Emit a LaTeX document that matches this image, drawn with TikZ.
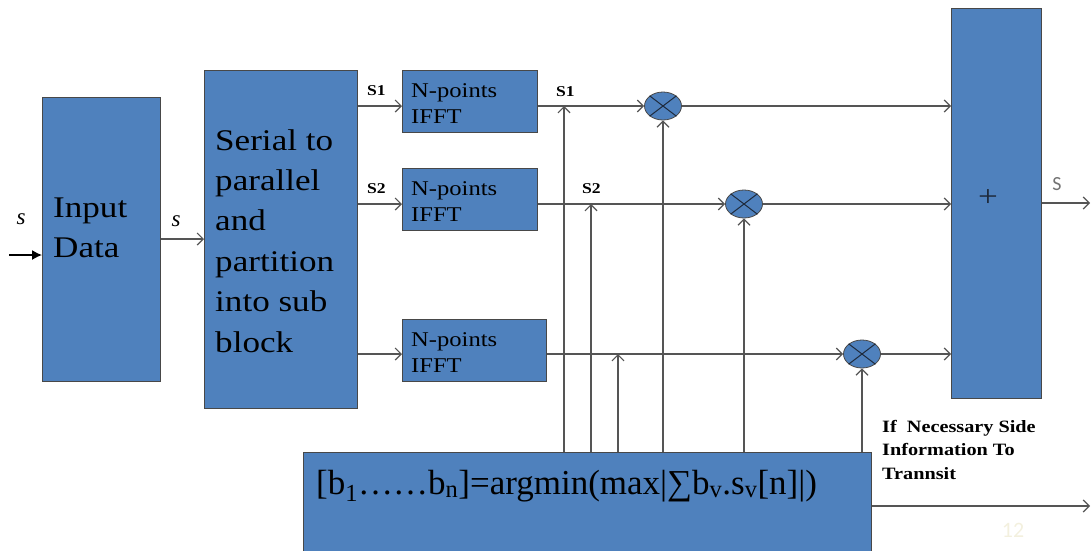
\documentclass[tikz,border=0pt]{standalone}
\usepackage{fontspec}
\setmainfont{Liberation Serif}
\newfontfamily\wideserif{Liberation Serif}[FakeStretch=1.17]
\newfontfamily\labelsans{Carlito}
\usetikzlibrary{arrows.meta,shapes.geometric}
\definecolor{boxblue}{RGB}{79,129,189}
\definecolor{edgegray}{RGB}{72,72,72}
\definecolor{wiregray}{RGB}{85,85,85}
\definecolor{plusdark}{RGB}{30,42,60}
\definecolor{faintnum}{RGB}{243,240,222}

\begin{document}
\begin{tikzpicture}[x=1pt,y=-1pt,
  blk/.style={draw=edgegray, line width=0.8pt, fill=boxblue, rectangle,
    inner sep=0pt, anchor=north west},
  mult/.style={draw=edgegray, line width=0.8pt, fill=boxblue, ellipse,
    minimum width=37pt, minimum height=28pt, inner sep=0pt},
  cross/.style={draw=plusdark, line width=1pt},
  wire/.style={draw=wiregray, line width=1.2pt,
    -{Straight Barb[length=6pt,width=12pt,line width=1.2pt]}},
  inwire/.style={draw=black, line width=1.3pt, -{Latex[length=10pt,width=10pt]}},
  bigtxt/.style={anchor=base west, inner sep=0pt,
    font=\wideserif\fontsize{30}{40.4}\selectfont},
  ffttxt/.style={anchor=base west, inner sep=0pt,
    font=\wideserif\fontsize{21}{26}\selectfont},
  sublab/.style={anchor=base west, inner sep=0pt,
    font=\wideserif\bfseries\fontsize{15}{15}\selectfont},
  italab/.style={inner sep=0pt, font=\itshape\fontsize{23}{23}\selectfont},
]
\useasboundingbox (0,0) rectangle (1091,550);

% blocks
\node[blk, minimum width=118pt, minimum height=284pt] (inp) at (42,97) {};
\node[blk, minimum width=153pt, minimum height=338pt] (sp) at (204,70) {};
\node[blk, minimum width=135pt, minimum height=62pt] (i1) at (402,70) {};
\node[blk, minimum width=135pt, minimum height=62pt] (i2) at (402,168) {};
\node[blk, minimum width=144pt, minimum height=62pt] (i3) at (402,319) {};
\node[blk, minimum width=90pt, minimum height=390pt] (add) at (951,8) {};
\node[blk, minimum width=568pt, minimum height=110pt] (opt) at (303,452) {};

% row levels
\coordinate (r1) at (0,106);
\coordinate (r2) at (0,204);
\coordinate (r3) at (0,354);

% multipliers
\node[mult] (m1) at (663,106) {};
\node[mult] (m2) at (744,204) {};
\node[mult] (m3) at (862,354) {};
\foreach \m in {m1,m2,m3}{
  \draw[cross] (\m.north west) -- (\m.south east);
  \draw[cross] (\m.south west) -- (\m.north east);
}

% block texts
\node[bigtxt] (inptxt) at (53,217) {\vtop{\hbox{Input}\hbox{Data}}};
\node[bigtxt] (sptxt) at (215,150)
  {\vtop{\hbox{Serial to}\hbox{parallel}\hbox{and}\hbox{partition}\hbox{into sub}\hbox{block}}};
\node[ffttxt] (i1txt) at (411,97) {\vtop{\hbox{N-points}\hbox{IFFT}}};
\node[ffttxt] (i2txt) at (411,195) {\vtop{\hbox{N-points}\hbox{IFFT}}};
\node[ffttxt] (i3txt) at (411,346) {\vtop{\hbox{N-points}\hbox{IFFT}}};
\node[inner sep=0pt, text=plusdark, font=\wideserif\fontsize{30}{30}\selectfont]
  (plus) at (988,198) {+};
\node[anchor=base west, inner sep=0pt, font=\fontsize{35}{40}\selectfont] (opttxt) at (316,494)
  {[b\textsubscript{1}……b\textsubscript{n}]=argmin(max|∑b\textsubscript{v}.s\textsubscript{v}[n]|)};

% input and serial path
\coordinate (start) at (9,255);
\coordinate (sline) at (0,239);
\draw[inwire] (start) -- (inp.west |- start);
\draw[wire] (inp.east |- sline) -- (sp.west |- sline);
\node[italab] (sa) at (21,219) {s};
\node[italab] (sb) at (176,221) {s};

% parallel branches
\draw[wire] (sp.east |- r1) -- (i1.west |- r1);
\draw[wire] (sp.east |- r2) -- (i2.west |- r2);
\draw[wire] (sp.east |- r3) -- (i3.west |- r3);
\node[sublab] (la1) at (367,95) {S1};
\node[sublab] (la2) at (367,193) {S2};

\draw[wire] (i1.east |- r1) -- (m1.west);
\draw[wire] (i2.east |- r2) -- (m2.west);
\draw[wire] (i3.east |- r3) -- (m3.west);
\node[sublab] (lb1) at (556,96) {S1};
\node[sublab] (lb2) at (582,193) {S2};

\draw[wire] (m1.east) -- (add.west |- m1.east);
\draw[wire] (m2.east) -- (add.west |- m2.east);
\draw[wire] (m3.east) -- (add.west |- m3.east);

% feedback from the optimiser
\draw[wire] (opt.north -| 564,0) -- (r1 -| 564,0);
\draw[wire] (opt.north -| 591,0) -- (r2 -| 591,0);
\draw[wire] (opt.north -| 618,0) -- (r3 -| 618,0);
\draw[wire] (opt.north -| m1.south) -- (m1.south);
\draw[wire] (opt.north -| m2.south) -- (m2.south);
\draw[wire] (opt.north -| m3.south) -- (m3.south);

% outputs
\coordinate (sout) at (1090,203);
\draw[wire] (add.east |- sout) -- (sout);
\node[inner sep=0pt, text=black!55, font=\labelsans\fontsize{20}{20}\selectfont] (so) at (1057,184) {S};
\coordinate (sideout) at (1090,506);
\draw[wire] (opt.east |- sideout) -- (sideout);
\node[anchor=base west, inner sep=0pt, font=\wideserif\bfseries\fontsize{17.3}{23.5}\selectfont]
  (side) at (882,432) {\vtop{\hbox{If~~Necessary Side}\hbox{Information To}\hbox{Trannsit}}};
\node[inner sep=0pt, text=faintnum, font=\labelsans\fontsize{22}{22}\selectfont] (pg) at (1013,530) {12};
\end{tikzpicture}
\end{document}
